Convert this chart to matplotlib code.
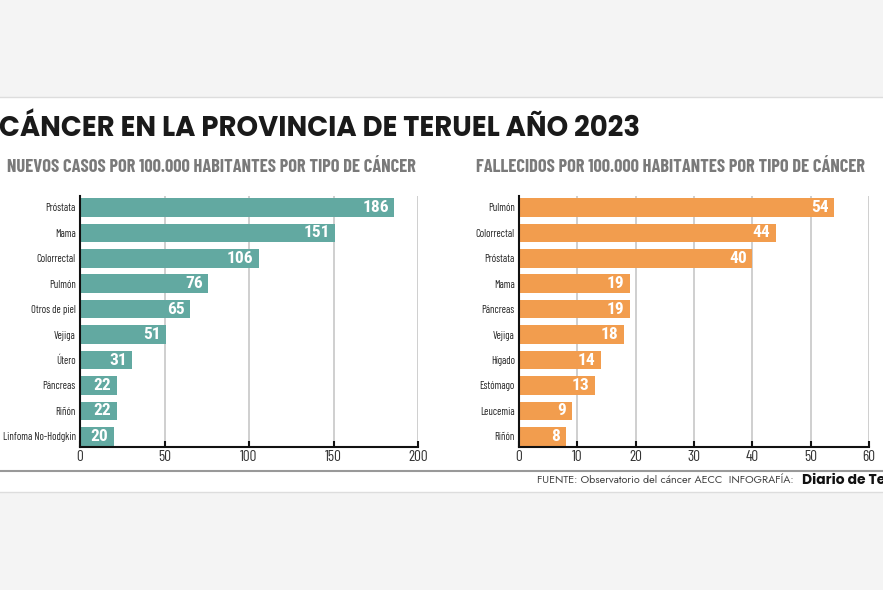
import matplotlib
matplotlib.use("Agg")
import matplotlib.pyplot as plt
from matplotlib.patches import Rectangle
from matplotlib.lines import Line2D

# ---- data ----
title = "CÁNCER EN LA PROVINCIA DE TERUEL AÑO 2023"
sub_left = "NUEVOS CASOS POR 100.000 HABITANTES POR TIPO DE CÁNCER"
sub_right = "FALLECIDOS POR 100.000 HABITANTES POR TIPO DE CÁNCER"
cases_labels = ["Próstata", "Mama", "Colorrectal", "Pulmón", "Otros de piel",
                "Vejiga", "Útero", "Páncreas", "Riñón", "Linfoma No-Hodgkin"]
cases_values = [186, 151, 106, 76, 65, 51, 31, 22, 22, 20]
cases_ticks = [0, 50, 100, 150, 200]
deaths_labels = ["Pulmón", "Colorrectal", "Próstata", "Mama", "Páncreas",
                 "Vejiga", "Hígado", "Estómago", "Leucemia", "Riñón"]
deaths_values = [54, 44, 40, 19, 19, 18, 14, 13, 9, 8]
deaths_ticks = [0, 10, 20, 30, 40, 50, 60]
footer_src = "FUENTE: Observatorio del cáncer AECC  INFOGRAFÍA:"
footer_logo = "Diario de Teruel"

TITLEF = ["Poppins", "DejaVu Sans"]
FOOTF = ["Jost", "DejaVu Sans"]
SUBF = ["Barlow Condensed", "DejaVu Sans"]
LABF = ["Barlow Condensed", "DejaVu Sans"]
VALF = ["Roboto Condensed", "DejaVu Sans"]
TEAL = "#62a9a1"
ORANGE = "#f29d4e"

fig = plt.figure(figsize=(8.83, 5.90), dpi=100)
fig.patch.set_facecolor("#f4f4f4")
W, H = 883, 590

def fx(px): return px / W
def fy(py): return 1 - py / H

# white panel
fig.add_artist(Rectangle((0, fy(492)), 1, fy(97) - fy(492), transform=fig.transFigure,
                         facecolor="white", edgecolor="none", zorder=0))
fig.add_artist(Line2D([0, 1], [fy(97), fy(97)], transform=fig.transFigure, color="#dddddd", lw=1))
fig.add_artist(Line2D([0, 1], [fy(492), fy(492)], transform=fig.transFigure, color="#dddddd", lw=1))
fig.add_artist(Line2D([0, 1], [fy(471), fy(471)], transform=fig.transFigure, color="#999999", lw=1.5))

fig.text(fx(-1), fy(129), title, fontsize=19.8, fontweight="bold", color="#1a1a1a",
         family=TITLEF, ha="left", va="center")
fig.text(fx(7), fy(168), sub_left, fontsize=13.3, fontweight="bold", color="#7a7a7a",
         family=SUBF, ha="left", va="center")
fig.text(fx(476), fy(168), sub_right, fontsize=13.3, fontweight="bold", color="#7a7a7a",
         family=SUBF, ha="left", va="center")
fig.text(fx(537), fy(481), footer_src, fontsize=7.8, color="#444444",
         family=FOOTF, ha="left", va="center")
fig.text(fx(802), fy(481), footer_logo, fontsize=10, fontweight="bold", color="#111111",
         family=TITLEF, ha="left", va="center")

def panel(left_px, right_px, labels, values, ticks, color):
    top_px, bot_px = 196, 447
    ax = fig.add_axes([fx(left_px), fy(bot_px), fx(right_px - left_px), (bot_px - top_px) / H])
    ax.set_facecolor("none")
    y = list(range(len(labels)))
    ax.barh(y, values, height=0.73, color=color, zorder=2)
    ax.set_ylim(9.42, -0.45)
    ax.set_xlim(ticks[0], ticks[-1])
    ax.set_xticks(ticks)
    ax.set_yticks(y)
    ax.set_yticklabels(labels, family=LABF, fontsize=7.6, color="#222222")
    ax.tick_params(axis="y", length=0, pad=3)
    ax.tick_params(axis="x", direction="in", length=4, width=1.5, color="#111111",
                   labelsize=11, labelcolor="#333333", pad=2.5)
    for lab in ax.get_xticklabels():
        lab.set_family(LABF)
    ax.grid(axis="x", color="#cccccc", lw=1.3, zorder=0)
    for s in ["top", "right"]:
        ax.spines[s].set_visible(False)
    for s in ["left", "bottom"]:
        ax.spines[s].set_linewidth(1.5)
        ax.spines[s].set_color("#111111")
    for yi, v in zip(y, values):
        ax.annotate(str(v), (v, yi), xytext=(-4, 0), textcoords="offset points",
                    ha="right", va="center", color="white", fontsize=12.5,
                    fontweight="bold", family=VALF, zorder=3)
    return ax

panel(80, 418, cases_labels, cases_values, cases_ticks, TEAL)
panel(519, 869, deaths_labels, deaths_values, deaths_ticks, ORANGE)

fig.savefig("out.png", dpi=100, facecolor=fig.get_facecolor())
